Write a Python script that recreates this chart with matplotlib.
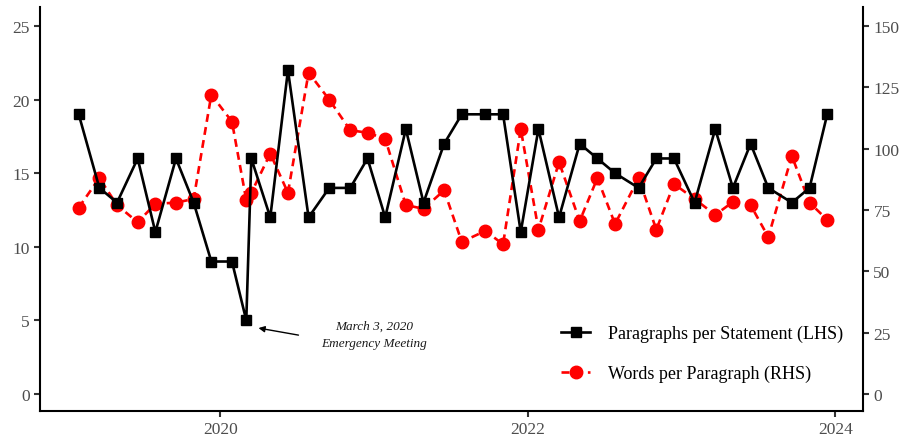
import matplotlib
matplotlib.use("Agg")
import matplotlib.pyplot as plt
import pandas as pd
from matplotlib.lines import Line2D

dates = [
    "2019-01-30", "2019-03-20", "2019-05-01", "2019-06-19", "2019-07-31", "2019-09-18", "2019-10-30", "2019-12-11",
    "2020-01-29", "2020-03-03", "2020-03-15", "2020-04-29", "2020-06-10", "2020-07-29", "2020-09-16", "2020-11-05", "2020-12-16",
    "2021-01-27", "2021-03-17", "2021-04-28", "2021-06-16", "2021-07-28", "2021-09-22", "2021-11-03", "2021-12-15",
    "2022-01-26", "2022-03-16", "2022-05-04", "2022-06-15", "2022-07-27", "2022-09-21", "2022-11-02", "2022-12-14",
    "2023-02-01", "2023-03-22", "2023-05-03", "2023-06-14", "2023-07-26", "2023-09-20", "2023-11-01", "2023-12-13",
]
paragraphs = [19, 14, 13, 16, 11, 16, 13, 9,
              9, 5, 16, 12, 22, 12, 14, 14, 16,
              12, 18, 13, 17, 19, 19, 19, 11,
              18, 12, 17, 16, 15, 14, 16, 16,
              13, 18, 14, 17, 14, 13, 14, 19]
words = [76, 88, 77, 70, 77.5, 78, 79.5, 122,
         111, 79, 82, 98, 82, 131, 120, 107.5, 106.5,
         104, 77, 75.5, 83, 62, 66.5, 61, 108,
         67, 94.5, 70.5, 88, 69.3, 88, 67, 85.6,
         79.5, 73, 78.3, 77, 64, 97, 78, 71]

left_ticks = [0, 5, 10, 15, 20, 25]
right_ticks = [0, 25, 50, 75, 100, 125, 150]
year_ticks = ["2020-01-01", "2022-01-01", "2024-01-01"]
year_labels = ["2020", "2022", "2024"]

x = pd.to_datetime(dates)

plt.rcParams['font.family'] = ['Liberation Serif', 'DejaVu Serif']

fig = plt.figure(figsize=(9.06, 4.39), dpi=100)
ax = fig.add_axes([40/906, 1-412/439, (863-40)/906, (412-8)/439])
ax2 = ax.twinx()

dash = (0, (3, 2))
ax.plot(x, paragraphs, color='black', lw=1.9, marker='s', ms=7.8, zorder=3)
ax2.plot(x, words, color='#ff0000', lw=1.9, ls=dash, marker='o', ms=9, zorder=2)
ax.set_zorder(ax2.get_zorder() + 1)
ax.patch.set_visible(False)

ax.set_xlim(pd.Timestamp("2018-10-30"), pd.Timestamp("2024-03-07"))
ax.set_ylim(-1.155, 26.29)
ax2.set_ylim(-1.155 * 6, 26.29 * 6)
ax.set_yticks(left_ticks)
ax2.set_yticks(right_ticks)
ax.set_xticks(pd.to_datetime(year_ticks))
ax.set_xticklabels(year_labels)

for a in (ax, ax2):
    a.spines['top'].set_visible(False)
    for s in ('left', 'right', 'bottom'):
        a.spines[s].set_linewidth(1.5)
    a.tick_params(axis='both', colors='#4d4d4d', labelsize=12.5, length=4, width=1.5, direction='out')
    a.tick_params(axis='both', color='#333333')
ax.spines['right'].set_visible(False)
ax2.spines['left'].set_visible(False)
ax2.spines['bottom'].set_visible(False)

# annotation
ax.annotate('', xy=(pd.Timestamp("2020-04-01"), 4.48), xytext=(pd.Timestamp("2020-07-05"), 4.0),
            arrowprops=dict(arrowstyle='-|>', color='black', lw=1.0, mutation_scale=9,
                            shrinkA=0, shrinkB=0))
ax.text(pd.Timestamp("2021-01-01"), 4.65, "March 3, 2020", style='italic', fontsize=9.5,
        ha='center', va='center', color='#1a1a1a')
ax.text(pd.Timestamp("2021-01-01"), 3.47, "Emergency Meeting", style='italic', fontsize=9.5,
        ha='center', va='center', color='#1a1a1a')

handles = [Line2D([], [], color='black', lw=1.9, marker='s', ms=7.8),
           Line2D([], [], color='#ff0000', lw=1.9, ls=dash, marker='o', ms=9)]
ax.legend(handles, ["Paragraphs per Statement (LHS)", "Words per Paragraph (RHS)"],
          loc='lower left', bbox_to_anchor=(545/906, 1-399.5/439), bbox_transform=fig.transFigure,
          frameon=False, fontsize=13, handlelength=1.6, labelspacing=1.25, handletextpad=1.0)

fig.savefig("out.png", dpi=100)
